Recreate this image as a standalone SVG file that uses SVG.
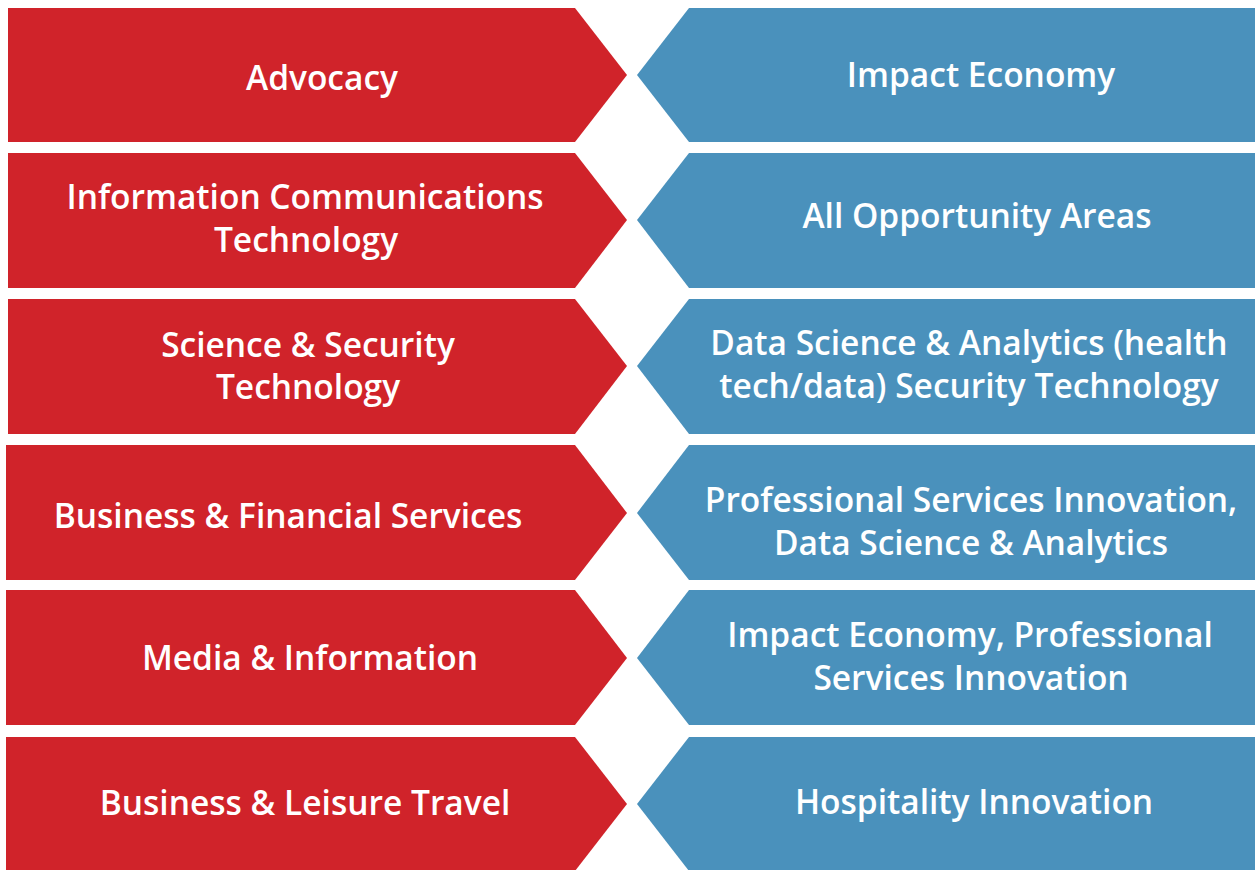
<svg xmlns="http://www.w3.org/2000/svg" width="1255" height="870" viewBox="0 0 1255 870">
<style>
.r{fill:#D0232A}
.b{fill:#4A91BC}
text{fill:#fff;font-family:"Open Sans","Liberation Sans",sans-serif;font-weight:600;font-size:33.5px;text-anchor:middle;font-variant-ligatures:none}
</style>
<rect width="1255" height="870" fill="#fff"/>
<g id="row1">
<g id="advocacy"><polygon class="r" points="8,8 575,8 627,75 575,142 8,142"/><text x="322" y="90">Advocacy</text></g>
<g id="impact-economy"><polygon class="b" points="689,8 1255,8 1255,142 689,142 637,75"/><text x="981" y="87">Impact Economy</text></g>
</g>
<g id="row2">
<g id="ict"><polygon class="r" points="8,153 575,153 627,220 575,288 8,288"/><text x="305" y="209">Information Communications</text><text x="306" y="252">Technology</text></g>
<g id="all-opportunity"><polygon class="b" points="689,153 1255,153 1255,288 689,288 637,220"/><text x="977" y="228">All Opportunity Areas</text></g>
</g>
<g id="row3">
<g id="science-security"><polygon class="r" points="8,299 575,299 627,366 575,434 8,434"/><text x="308" y="357">Science &amp; Security</text><text x="308" y="399">Technology</text></g>
<g id="data-science"><polygon class="b" points="689,299 1255,299 1255,434 689,434 637,366"/><text x="969" y="355">Data Science &amp; Analytics (health</text><text x="969" y="398">tech/data) Security Technology</text></g>
</g>
<g id="row4">
<g id="business-financial"><polygon class="r" points="6,445 575,445 627,513 575,580 6,580"/><text x="288" y="528">Business &amp; Financial Services</text></g>
<g id="professional-services"><polygon class="b" points="689,445 1255,445 1255,580 689,580 637,513"/><text x="971" y="512">Professional Services Innovation,</text><text x="971" y="555">Data Science &amp; Analytics</text></g>
</g>
<g id="row5">
<g id="media-information"><polygon class="r" points="6,590 575,590 627,658 575,725 6,725"/><text x="310" y="670">Media &amp; Information</text></g>
<g id="impact-professional"><polygon class="b" points="689,590 1255,590 1255,725 689,725 637,658"/><text x="970" y="647">Impact Economy, Professional</text><text x="971" y="690">Services Innovation</text></g>
</g>
<g id="row6">
<g id="business-leisure"><polygon class="r" points="6,737 575,737 627,804 575,871 6,871"/><text x="305" y="815">Business &amp; Leisure Travel</text></g>
<g id="hospitality"><polygon class="b" points="689,737 1255,737 1255,871 689,871 637,804"/><text x="974" y="814">Hospitality Innovation</text></g>
</g>
<g id="connectors"/>
</svg>
